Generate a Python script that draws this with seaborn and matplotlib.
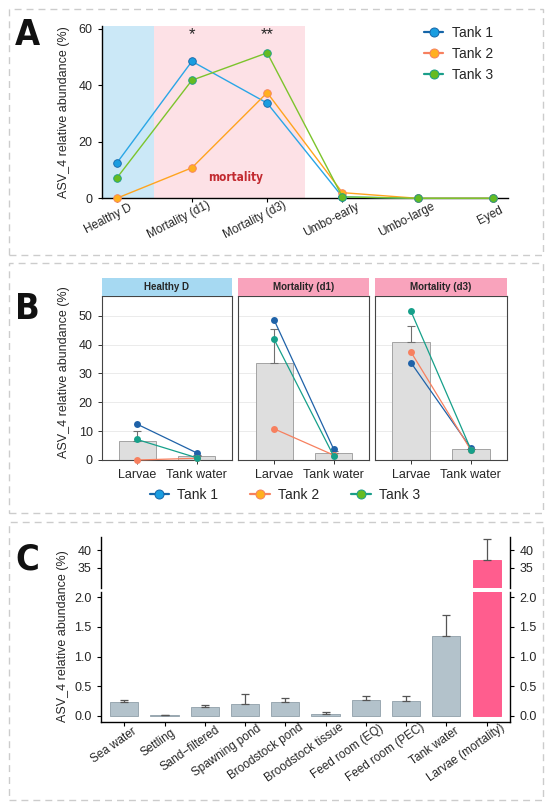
import matplotlib
matplotlib.use('Agg')

import numpy as np
import pandas as pd
import seaborn as sns
import matplotlib.pyplot as plt
import matplotlib.transforms as mtransforms
from matplotlib.lines import Line2D
from matplotlib.patches import Rectangle

sns.set_style('ticks')
plt.rcParams['font.family'] = ['Liberation Sans', 'DejaVu Sans']

# ---- data ----
stages = ['Healthy D', 'Mortality (d1)', 'Mortality (d3)', 'Umbo-early', 'Umbo-large', 'Eyed']
tank1_a = [12.4, 48.5, 33.7, 0.5, 0.0, 0.0]
tank2_a = [0.0, 10.8, 37.4, 2.0, 0.0, 0.0]
tank3_a = [7.1, 41.8, 51.5, 0.5, 0.0, 0.0]

facets = ['Healthy D', 'Mortality (d1)', 'Mortality (d3)']
samples = ['Larvae', 'Tank water']
larvae_t1 = [12.4, 48.5, 33.7]
larvae_t2 = [0.0, 10.8, 37.4]
larvae_t3 = [7.1, 41.8, 51.5]
water_t1 = [2.5, 3.8, 4.1]
water_t2 = [0.6, 1.7, 3.4]
water_t3 = [0.8, 1.4, 3.6]

sites = ['Sea water', 'Settling', 'Sand\u2212filtered', 'Spawning pond', 'Broodstock pond',
         'Broodstock tissue', 'Feed room (EQ)', 'Feed room (PEC)', 'Tank water', 'Larvae (mortality)']
site_mean = [0.23, 0.01, 0.14, 0.20, 0.23, 0.035, 0.26, 0.25, 1.35, 37.3]
site_upper = [0.27, 0.02, 0.19, 0.36, 0.30, 0.06, 0.33, 0.33, 1.70, 43.1]

tanks = ['Tank 1', 'Tank 2', 'Tank 3']
line_a = ['#2aa6e6', '#ffa41f', '#7cc42c']
face_a = ['#1a9de0', '#ffb020', '#66bb22']
edge_a = ['#1565a8', '#f58060', '#1a9e8a']
col_b = ['#1f62a8', '#f7805f', '#16a08a']
strip_cols = ['#a6d9f2', '#f9a3bc', '#f9a3bc']

W, H = 550, 808
fig = plt.figure(figsize=(W / 100, H / 100), dpi=100)


def rect(x0, y0, x1, y1):
    return [x0 / W, 1 - y1 / H, (x1 - x0) / W, (y1 - y0) / H]


def shift_labels(ax, frac, rot):
    # move rotated tick labels part way along their own direction
    r = fig.canvas.get_renderer()
    for lbl in ax.get_xticklabels():
        w, h, d = r.get_text_width_height_descent(lbl.get_text(), lbl.get_fontproperties(), ismath=False)
        dx = frac * w * np.cos(np.radians(rot)) / fig.dpi
        dy = frac * w * np.sin(np.radians(rot)) / fig.dpi
        lbl.set_transform(lbl.get_transform() + mtransforms.ScaledTranslation(dx, dy, fig.dpi_scale_trans))


# dashed panel frames
for y0, y1 in [(9, 255), (263, 513), (522, 800)]:
    fig.add_artist(Rectangle((8.5 / W, 1 - y1 / H), (543 - 8.5) / W, (y1 - y0) / H,
                             transform=fig.transFigure, fill=False, ec='#cccccc',
                             lw=1.0, ls=(0, (5, 3.6))))

for letter, ytop in [('A', 18), ('B', 292), ('C', 542)]:
    fig.text(15 / W, 1 - ytop / H, letter, fontsize=26, fontweight='bold', fontstretch='condensed',
             family='DejaVu Sans', va='top', ha='left', color='#111111')

# ---- panel A ----
axA = fig.add_axes(rect(101.6, 26, 508, 198.3))
axA.axvspan(-0.2, 0.5, color='#cbe8f7', lw=0, zorder=0)
axA.axvspan(0.5, 2.5, color='#fde1e6', lw=0, zorder=0)
dfA = pd.DataFrame({'stage': stages * 3,
                    'value': tank1_a + tank2_a + tank3_a,
                    'tank': np.repeat(tanks, len(stages))})
for i, t in enumerate(tanks):
    sns.lineplot(data=dfA[dfA.tank == t], x='stage', y='value', sort=False, ax=axA,
                 color=line_a[i], lw=1.0, marker='o', markersize=5.5, mfc=face_a[i],
                 mec=edge_a[i], mew=0.6, clip_on=False, zorder=3 + i)
axA.set_xlim(-0.2, 5.2)
axA.set_ylim(0, 61)
axA.set_yticks([0, 20, 40, 60])
axA.set_xlabel('')
axA.set_ylabel('')
axA.tick_params(axis='both', direction='out', length=3, width=0.8, color='black', labelsize=9)
axA.tick_params(axis='x', labelsize=8.5)
plt.setp(axA.get_xticklabels(), rotation=27, ha='right', rotation_mode='anchor')
for s in ['top', 'right']:
    axA.spines[s].set_visible(False)
for s in ['left', 'bottom']:
    axA.spines[s].set_color('black')
    axA.spines[s].set_linewidth(1.0)
axA.text(1, 57.8, '*', ha='center', va='center', fontsize=12)
axA.text(2, 57.8, '**', ha='center', va='center', fontsize=12)
axA.text(1.58, 7.4, 'mortality', ha='center', va='center', fontsize=8.5, family='DejaVu Sans',
         fontweight='bold', fontstretch='condensed', color='#c22a30')
fig.text(63.5 / W, 1 - 112.5 / H, 'ASV_4 relative abundance (%)', rotation=90,
         ha='center', va='center', fontsize=9)

handles = [Line2D([0], [0], color=edge_a[i] if i != 1 else '#f7805f', lw=1.6, marker='o',
                  ms=6.5, mfc=face_a[i], mec=edge_a[i], mew=0.7) for i in range(3)]
fig.legend(handles, tanks, loc='upper left', bbox_to_anchor=(424 / W, 1 - 26 / H),
           frameon=False, fontsize=10, handlelength=1.4, handletextpad=0.6,
           labelspacing=0.5, borderpad=0, borderaxespad=0)

# ---- panel B ----
rowsB = []
for f_i, f in enumerate(facets):
    for t_i, (lv, wv) in enumerate([(larvae_t1, water_t1), (larvae_t2, water_t2), (larvae_t3, water_t3)]):
        rowsB.append((f, 'Larvae', tanks[t_i], lv[f_i]))
        rowsB.append((f, 'Tank water', tanks[t_i], wv[f_i]))
dfB = pd.DataFrame(rowsB, columns=['stage', 'sample', 'tank', 'value'])

xb = [(101.6, 232.1), (238.4, 369.3), (375, 506.9)]
for k, f in enumerate(facets):
    ax = fig.add_axes(rect(xb[k][0], 296, xb[k][1], 460))
    sub = dfB[dfB.stage == f]
    ax.set_axisbelow(True)
    ax.grid(True, color='#ebebeb', lw=0.7)
    sns.barplot(data=sub, x='sample', y='value', order=samples, errorbar=None, color='#dedede',
                saturation=1, edgecolor='#a3a3a3', linewidth=0.7, width=0.62, ax=ax, zorder=1)
    stats = sub.groupby('sample')['value'].agg(['mean', 'sem']).reindex(samples)
    ax.errorbar([0, 1], stats['mean'], yerr=[np.zeros(2), stats['sem']], fmt='none',
                ecolor='#707070', elinewidth=0.8, capsize=3, capthick=0.8, zorder=2)
    for t_i, t in enumerate(tanks):
        sns.lineplot(data=sub[sub.tank == t], x='sample', y='value', sort=False, ax=ax,
                     color=col_b[t_i], lw=0.9, marker='o', markersize=5, mew=0,
                     clip_on=False, zorder=3 + t_i)
    ax.set_xlim(-0.6, 1.6)
    ax.set_ylim(0, 56.8)
    ax.set_yticks([0, 10, 20, 30, 40, 50])
    ax.set_xlabel('')
    ax.set_ylabel('')
    ax.tick_params(axis='both', direction='out', length=3, width=0.7, color='#333333', labelsize=9)
    if k > 0:
        ax.tick_params(axis='y', length=0, labelleft=False)
    for s in ax.spines.values():
        s.set_visible(True)
        s.set_color('#444444')
        s.set_linewidth(0.8)
    sax = fig.add_axes(rect(xb[k][0], 278.3, xb[k][1], 296))
    sax.set_facecolor(strip_cols[k])
    sax.set_xticks([])
    sax.set_yticks([])
    for s in sax.spines.values():
        s.set_visible(False)
    sax.text(0.5, 0.5, f, ha='center', va='center', fontsize=7, fontweight='bold',
             transform=sax.transAxes)

fig.text(63.5 / W, 1 - 372.5 / H, 'ASV_4 relative abundance (%)', rotation=90,
         ha='center', va='center', fontsize=9)
fig.legend(handles, tanks, loc='center', bbox_to_anchor=(285 / W, 1 - 495 / H), ncol=3,
           frameon=False, fontsize=10, handlelength=1.4, handletextpad=0.6,
           columnspacing=2.3, borderpad=0, borderaxespad=0)

# ---- panel C (broken axis) ----
dfC = pd.DataFrame({'site': sites, 'mean': site_mean, 'upper': site_upper})
pal = ['#b3c2cb'] * (len(sites) - 1) + ['#ff5d8e']
axCt = fig.add_axes(rect(100.5, 536.7, 510.4, 588.3))
axCb = fig.add_axes(rect(100.5, 591.7, 510.4, 721.7))
for ax in (axCt, axCb):
    sns.barplot(data=dfC, x='site', y='mean', hue='site', palette=pal, legend=False,
                saturation=1, edgecolor='#9aa8b1', linewidth=0.7, width=0.7, ax=ax)
    ax.errorbar(np.arange(len(sites)), dfC['mean'], yerr=[np.zeros(len(sites)), dfC['upper'] - dfC['mean']],
                fmt='none', ecolor='#555555', elinewidth=0.9, capsize=3, capthick=0.9)
    ax.set_xlim(-0.59, 9.59)
    ax.set_xlabel('')
    ax.set_ylabel('')
    ax.tick_params(axis='y', direction='out', length=3, width=0.8, color='black', labelsize=9,
                   right=True, labelright=True)
    ax.spines['top'].set_visible(False)
    for s in ['left', 'right', 'bottom']:
        ax.spines[s].set_color('black')
        ax.spines[s].set_linewidth(1.0)
axCb.patches[-1].set_edgecolor('#ff5d8e')
axCt.patches[-1].set_edgecolor('#ff5d8e')
axCt.set_ylim(29.2, 43.8)
axCt.set_yticks([35, 40])
axCt.spines['bottom'].set_visible(False)
axCt.tick_params(axis='x', bottom=False, labelbottom=False)
axCb.set_ylim(-0.1, 2.095)
axCb.set_yticks([0, 0.5, 1.0, 1.5, 2.0])
axCb.set_yticklabels(['0.0', '0.5', '1.0', '1.5', '2.0'])
axCb.tick_params(axis='x', direction='out', length=3, width=0.8, color='black', labelsize=8.5)
plt.setp(axCb.get_xticklabels(), rotation=35, ha='right', rotation_mode='anchor')
fig.text(62.8 / W, 1 - 636 / H, 'ASV_4 relative abundance (%)', rotation=90,
         ha='center', va='center', fontsize=9)

shift_labels(axA, 0.25, 27)
shift_labels(axCb, 0.18, 35)

fig.savefig('out.png', dpi=100)
